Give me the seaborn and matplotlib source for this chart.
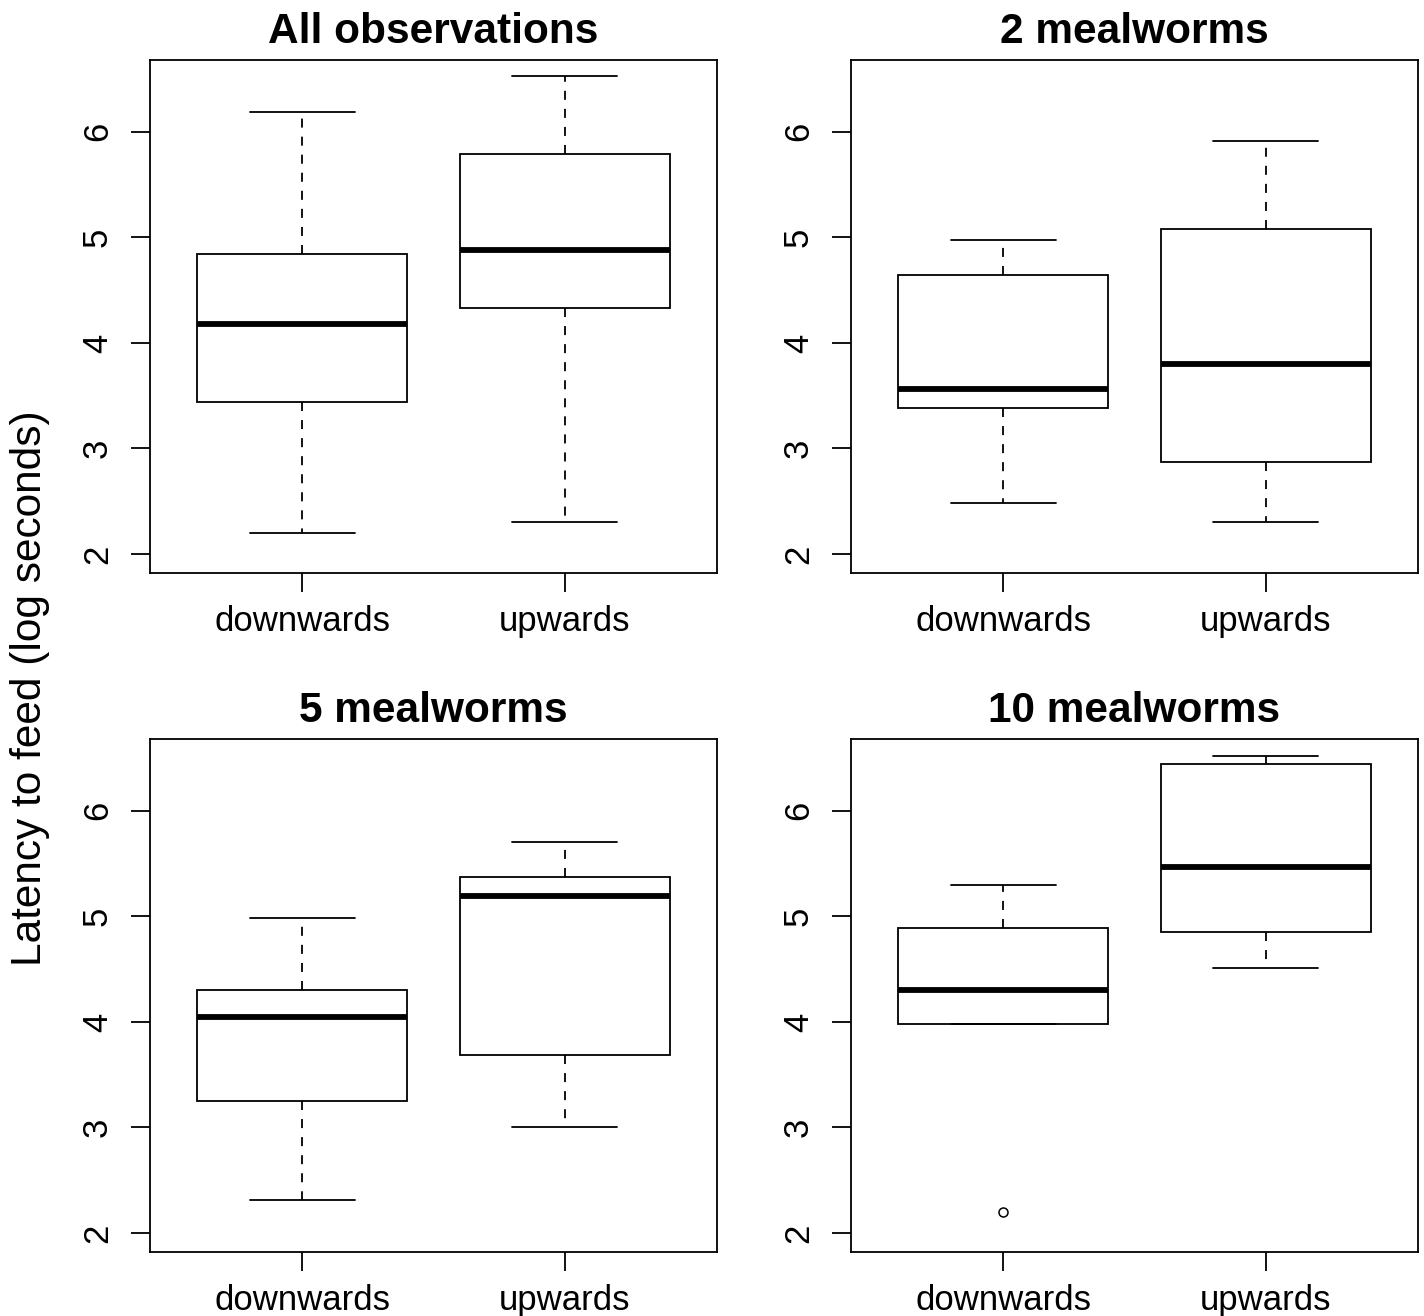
import numpy as np
import pandas as pd
import matplotlib
matplotlib.use("Agg")
import matplotlib.pyplot as plt
import seaborn as sns

# ---- data: five-number summaries [lower whisker, Q1, median, Q3, upper whisker] ----
directions = ["downwards", "upwards"]
panel_titles = ["All observations", "2 mealworms", "5 mealworms", "10 mealworms"]

all_down = [2.20, 3.44, 4.18, 4.84, 6.19]
all_up = [2.30, 4.33, 4.88, 5.79, 6.53]
mw2_down = [2.48, 3.38, 3.56, 4.64, 4.97]
mw2_up = [2.30, 2.87, 3.80, 5.08, 5.91]
mw5_down = [2.31, 3.25, 4.05, 4.30, 4.98]
mw5_up = [3.00, 3.69, 5.19, 5.37, 5.70]
mw10_down = [3.98, 3.98, 4.30, 4.89, 5.30]
mw10_up = [4.51, 4.85, 5.47, 6.44, 6.52]

# outliers per group
all_down_out, all_up_out = [], []
mw2_down_out, mw2_up_out = [], []
mw5_down_out, mw5_up_out = [], []
mw10_down_out, mw10_up_out = [2.20], []

y_ticks = [2, 3, 4, 5, 6]
y_label = "Latency to feed (log seconds)"


def sample_from_summary(s, outliers):
    lo, q1, med, q3, hi = s
    if not outliers:
        return [lo, q1, med, q3, hi]
    # 9-point sample whose linear quartiles equal the summary
    return list(outliers[:1]) + [lo, q1, q1, med, med, q3, hi, hi]


groups = [
    ((all_down, all_down_out), (all_up, all_up_out)),
    ((mw2_down, mw2_down_out), (mw2_up, mw2_up_out)),
    ((mw5_down, mw5_down_out), (mw5_up, mw5_up_out)),
    ((mw10_down, mw10_down_out), (mw10_up, mw10_up_out)),
]

sns.set_style("white")
plt.rcParams["font.family"] = ["Liberation Sans", "DejaVu Sans"]
plt.rcParams["text.color"] = "black"
plt.rcParams["axes.labelcolor"] = "black"
plt.rcParams["xtick.color"] = "black"
plt.rcParams["ytick.color"] = "black"

W, H = 1424, 1316
fig = plt.figure(figsize=(W / 100, H / 100), dpi=100)

lefts = [150, 851, 150, 851]
tops = [60, 60, 739, 739]
aw, ah = 567, 513

LW = 1.3
for i in range(4):
    ax = fig.add_axes([lefts[i] / W, 1 - (tops[i] + ah) / H, aw / W, ah / H])
    rows = []
    for d, (summ, outs) in zip(directions, groups[i]):
        for v in sample_from_summary(summ, outs):
            rows.append({"direction": d, "latency": v})
    df = pd.DataFrame(rows)
    sns.boxplot(
        data=df, x="direction", y="latency", order=directions, ax=ax,
        width=0.8, color="white", linecolor="black", linewidth=LW,
        whis=1.5,
        medianprops=dict(color="black", linewidth=4.2, solid_capstyle="butt"),
        whiskerprops=dict(color="black", linewidth=LW, linestyle=(0, (5, 5))),
        capprops=dict(color="black", linewidth=LW),
        boxprops=dict(facecolor="white", edgecolor="black", linewidth=LW),
        flierprops=dict(marker="o", markersize=6.5, markerfacecolor="none",
                        markeredgecolor="black", markeredgewidth=1.1),
    )
    ax.set_xlim(-0.58, 1.58)
    ax.set_ylim(1.82, 6.68)
    ax.set_yticks(y_ticks)
    ax.set_yticklabels([str(t) for t in y_ticks], rotation=90, va="center")
    ax.set_xlabel("")
    ax.set_ylabel("")
    ax.set_title(panel_titles[i], fontsize=30.5, fontweight="bold", pad=12,
                 color="black")
    ax.tick_params(axis="both", which="major", direction="out", length=14,
                   width=LW, color="black", labelcolor="black", labelsize=25,
                   left=True, bottom=True)
    ax.tick_params(axis="y", pad=12)
    ax.tick_params(axis="x", pad=9)
    for sp in ax.spines.values():
        sp.set_visible(True)
        sp.set_color("black")
        sp.set_linewidth(LW)
    ax.grid(False)

fig.text(0.021, 1 - 688 / H, y_label, rotation=90, ha="center", va="center",
         fontsize=30.5, color="black")

fig.savefig("out.png", dpi=100, facecolor="white")
